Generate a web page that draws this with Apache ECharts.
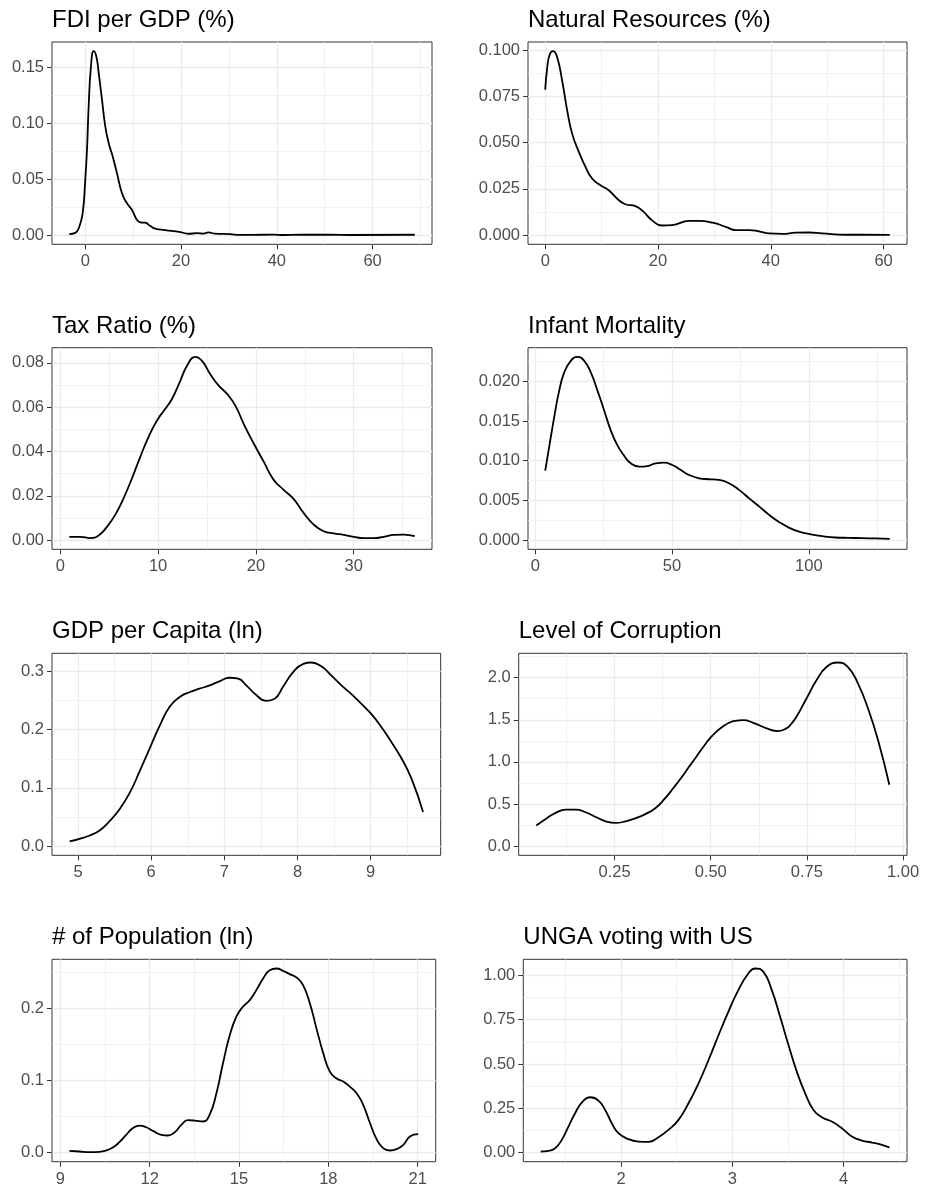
<!DOCTYPE html>
<html><head><meta charset="utf-8">
<script src="https://cdn.jsdelivr.net/npm/echarts@6/dist/echarts.min.js"></script>
<style>html,body{margin:0;padding:0;background:#fff}#c{width:925px;height:1188px}</style>
</head><body><div id="c"></div>
<script>
// ---------- data ----------
const titles = ["FDI per GDP (%)", "Natural Resources (%)", "Tax Ratio (%)", "Infant Mortality",
  "GDP per Capita (ln)", "Level of Corruption", "# of Population (ln)", "UNGA voting with US"];

const fdiX = [-3.34,-2.09,-1.25,-0.55,0,0.36,0.71,1.19,1.75,2.3,2.8,3.49,4.18,4.89,5.73,6.62,7.67,8.71,9.76,10.8,11.5,12.5,13.6,14.6,16.7,19.9,21.5,23.3,24.7,25.7,27.1,30.2,32.3,35.1,39.3,41.4,44.9,51.1,55.3,68.8];
const fdiY = [0.0009,0.002,0.0075,0.0195,0.0495,0.0765,0.1154,0.1513,0.1648,0.1603,0.1454,0.1214,0.0974,0.0825,0.0704,0.0555,0.0375,0.0285,0.0225,0.0135,0.0114,0.0111,0.0081,0.0057,0.0045,0.0027,0.0012,0.0017,0.0014,0.0024,0.0013,0.0009,0.0002,0.0002,0.0004,0.0001,0.0003,0.0003,0.0001,0.0003];

const natX = [0,0.36,0.83,1.42,2.12,3.0,3.89,4.77,5.96,7.14,8.31,9.79,11.26,12.73,14.2,15.99,17.45,18.9,20.7,22.5,25.5,27.3,29.7,32.0,33.8,36.2,37.9,39.7,42.1,44.4,46.8,49.1,53.3,56.2,61.1];
const natY = [0.0786,0.0908,0.098,0.0995,0.0962,0.0836,0.0675,0.0549,0.045,0.0369,0.0306,0.027,0.0243,0.0198,0.0167,0.0157,0.0126,0.0081,0.0052,0.0054,0.0077,0.0077,0.0067,0.0045,0.0027,0.0027,0.002,0.0009,0.0007,0.0013,0.0014,0.0009,0.0002,0.0002,0.0001];

const taxX = [0.92,2.05,3.07,3.92,4.77,5.63,6.48,7.33,8.18,9.03,9.89,10.74,11.42,12.27,12.96,13.81,14.49,15.34,16.2,17.05,17.9,18.75,19.78,20.8,21.82,22.84,23.87,24.89,25.91,26.93,27.96,28.98,30.0,31.03,32.05,33.07,34.1,35.12,36.24];
const taxY = [0.0015,0.0015,0.0009,0.0021,0.006,0.0115,0.019,0.0279,0.0376,0.0466,0.054,0.0593,0.0637,0.0719,0.0787,0.0827,0.0809,0.0749,0.0697,0.066,0.0607,0.0525,0.0436,0.0354,0.0272,0.0227,0.0185,0.0122,0.007,0.004,0.003,0.0024,0.0015,0.0009,0.0009,0.0015,0.0024,0.0025,0.0018];

const infX = [3.65,5.1,6.93,8.76,10.6,13.0,15.45,17.9,20.3,22.75,25.2,27.6,30.0,32.5,34.9,38.0,41.0,44.0,47.1,50.1,53.2,56.2,59.9,63.5,67.2,70.8,74.5,78.1,81.8,85.4,89.1,92.7,96.4,100.0,104.9,109.7,114.6,119.5,124.3,129.6];
const infY = [0.00875,0.01175,0.0155,0.01883,0.02113,0.02258,0.02308,0.02258,0.02113,0.01883,0.01633,0.01383,0.01196,0.01063,0.00967,0.00925,0.00933,0.00967,0.00975,0.00946,0.00883,0.00821,0.00779,0.00767,0.00758,0.00717,0.00633,0.00529,0.00425,0.00321,0.00229,0.00158,0.00108,0.00079,0.0005,0.00033,0.00029,0.00025,0.00021,0.00017];

const gdpX = [4.886,5.02,5.16,5.3,5.43,5.57,5.71,5.84,5.98,6.12,6.25,6.39,6.53,6.66,6.8,6.94,7.07,7.19,7.3,7.44,7.57,7.69,7.8,7.94,8.08,8.19,8.33,8.46,8.6,8.74,8.87,9.01,9.15,9.28,9.42,9.56,9.715];
const gdpY = [0.008,0.0125,0.0182,0.0273,0.0427,0.0638,0.0922,0.128,0.168,0.2078,0.239,0.2562,0.2647,0.2704,0.2761,0.2835,0.2892,0.2875,0.2761,0.259,0.2493,0.2533,0.2732,0.2989,0.3131,0.3154,0.3085,0.2932,0.2761,0.2607,0.2448,0.2266,0.2038,0.1793,0.1509,0.115,0.0586];

const corX = [0.0467,0.071,0.097,0.123,0.149,0.175,0.201,0.227,0.253,0.279,0.304,0.33,0.356,0.38,0.403,0.425,0.445,0.464,0.481,0.498,0.515,0.533,0.548,0.563,0.585,0.611,0.6455,0.6756,0.697,0.711,0.723,0.749,0.775,0.801,0.831,0.857,0.883,0.909,0.935,0.9645];
const corY = [0.244,0.323,0.394,0.433,0.433,0.402,0.346,0.295,0.276,0.295,0.33,0.38,0.45,0.56,0.69,0.82,0.95,1.07,1.18,1.28,1.36,1.425,1.465,1.488,1.496,1.464,1.398,1.366,1.398,1.46,1.535,1.752,1.968,2.126,2.18,2.126,1.929,1.634,1.26,0.728];

const popX = [9.303,9.64,9.98,10.31,10.54,10.76,10.98,11.21,11.43,11.66,11.88,12.11,12.39,12.61,12.84,13.06,13.28,13.51,13.79,14.01,14.24,14.46,14.69,14.91,15.13,15.36,15.58,15.81,16.03,16.26,16.48,16.7,16.93,17.15,17.38,17.6,17.83,18.05,18.27,18.5,18.72,18.95,19.17,19.4,19.62,19.84,20.07,20.29,20.52,20.74,21.02];
const popY = [0.0023,0.0014,0.0005,0.0009,0.0028,0.0069,0.0143,0.0245,0.0337,0.0374,0.0351,0.03,0.0245,0.0236,0.0282,0.0383,0.0448,0.0443,0.043,0.0522,0.0822,0.1238,0.163,0.1885,0.2023,0.2115,0.2254,0.2416,0.2531,0.2554,0.2522,0.2476,0.243,0.2323,0.2069,0.1723,0.1376,0.1122,0.103,0.0984,0.0915,0.0822,0.066,0.0406,0.0185,0.006,0.0028,0.0046,0.0106,0.0222,0.0254];

const ungaX = [1.277,1.346,1.406,1.466,1.526,1.586,1.646,1.721,1.796,1.856,1.916,1.976,2.066,2.156,2.246,2.336,2.426,2.516,2.606,2.696,2.786,2.876,2.964,3.054,3.144,3.205,3.28,3.355,3.43,3.505,3.58,3.655,3.73,3.805,3.895,3.985,4.075,4.165,4.255,4.345,4.414];
const ungaY = [0.0056,0.0094,0.0244,0.0714,0.1466,0.2218,0.282,0.312,0.2932,0.2406,0.1654,0.109,0.0752,0.062,0.0602,0.0865,0.1278,0.1842,0.2782,0.391,0.5226,0.6635,0.795,0.9173,1.0113,1.0395,1.0207,0.9173,0.767,0.6071,0.4568,0.3346,0.2406,0.1992,0.1748,0.1372,0.0902,0.0677,0.0564,0.0432,0.0282];

// tick labels
const fdiXTicks = [0,20,40,60],       fdiYTicks = [0,0.05,0.10,0.15];
const natXTicks = [0,20,40,60],       natYTicks = [0,0.025,0.05,0.075,0.1];
const taxXTicks = [0,10,20,30],       taxYTicks = [0,0.02,0.04,0.06,0.08];
const infXTicks = [0,50,100],         infYTicks = [0,0.005,0.01,0.015,0.02];
const gdpXTicks = [5,6,7,8,9],        gdpYTicks = [0,0.1,0.2,0.3];
const corXTicks = [0.25,0.5,0.75,1],  corYTicks = [0,0.5,1,1.5,2];
const popXTicks = [9,12,15,18,21],    popYTicks = [0,0.1,0.2];
const ungaXTicks = [2,3,4],           ungaYTicks = [0,0.25,0.5,0.75,1];

const xDec = [0,0,0,0,0,2,0,0];
const yDec = [2,3,2,3,1,1,1,2];

const panels = [
  [fdiX, fdiY, fdiXTicks, fdiYTicks],
  [natX, natY, natXTicks, natYTicks],
  [taxX, taxY, taxXTicks, taxYTicks],
  [infX, infY, infXTicks, infYTicks],
  [gdpX, gdpY, gdpXTicks, gdpYTicks],
  [corX, corY, corXTicks, corYTicks],
  [popX, popY, popXTicks, popYTicks],
  [ungaX, ungaY, ungaXTicks, ungaYTicks]
];

// ---------- layout ----------
const layout = [
  [52, 42, 432, 244.3], [528, 42, 907, 244.3],
  [52, 347.7, 432, 549.3], [528, 347.7, 907, 549.3],
  [52, 653.3, 440.7, 855.3], [518.7, 653.3, 907, 855.3],
  [52, 959.3, 435.7, 1161.7], [523.3, 959.3, 907, 1161.7]
];

const FONT = '"Liberation Sans", Arial, Helvetica, sans-serif';
const grids = [], xAxes = [], yAxes = [], series = [], titleCmp = [];

function minorOf(ticks, lo, hi) {
  const step = ticks[1] - ticks[0];
  const c = [ticks[0] - step / 2].concat(ticks.map(t => t + step / 2));
  return c.filter(v => v > lo && v < hi);
}
function expand(lo, hi) { const r = hi - lo; return [lo - 0.05 * r, hi + 0.05 * r]; }

panels.forEach((p, i) => {
  const [xs, ys, xt, yt] = p;
  const [l, t, r, b] = layout[i];
  const [xmin, xmax] = expand(Math.min(...xs), Math.max(...xs));
  const [ymin, ymax] = expand(0, Math.max(...ys));
  grids.push({ left: l, top: t, width: r - l, height: b - t, show: true,
    borderColor: '#333333', borderWidth: 1, backgroundColor: 'transparent' });
  titleCmp.push({ text: titles[i], left: l, top: t - 33.5, padding: 0,
    textStyle: { fontFamily: FONT, fontSize: 24, fontWeight: 'normal', color: '#000' } });
  const xd = xDec[i], yd = yDec[i];
  const xMinor = minorOf(xt, xmin, xmax), yMinor = minorOf(yt, ymin, ymax);
  xAxes.push({ type: 'value', gridIndex: i, position: 'bottom', min: xmin, max: xmax,
    axisLine: { show: false, onZero: false },
    axisTick: { show: true, length: 5, customValues: xt, lineStyle: { color: '#333333', width: 1 } },
    axisLabel: { show: true, customValues: xt, margin: 9, color: '#4D4D4D', fontSize: 16.5, fontFamily: FONT,
      formatter: v => Number(v).toFixed(xd) },
    splitLine: { show: true, lineStyle: { color: '#EBEBEB', width: 1.3 } } });
  xAxes.push({ type: 'value', gridIndex: i, position: 'top', min: xmin, max: xmax,
    axisLine: { show: false, onZero: false },
    axisTick: { show: false, customValues: xMinor },
    axisLabel: { show: false, customValues: xMinor },
    splitLine: { show: true, lineStyle: { color: '#EBEBEB', width: 0.7 } } });
  yAxes.push({ type: 'value', gridIndex: i, position: 'left', min: ymin, max: ymax,
    axisLine: { show: false, onZero: false },
    axisTick: { show: true, length: 5, customValues: yt, lineStyle: { color: '#333333', width: 1 } },
    axisLabel: { show: true, customValues: yt, margin: 8, color: '#4D4D4D', fontSize: 16.5, fontFamily: FONT,
      formatter: v => Number(v).toFixed(yd) },
    splitLine: { show: true, lineStyle: { color: '#EBEBEB', width: 1.3 } } });
  yAxes.push({ type: 'value', gridIndex: i, position: 'right', min: ymin, max: ymax,
    axisLine: { show: false, onZero: false },
    axisTick: { show: false, customValues: yMinor },
    axisLabel: { show: false, customValues: yMinor },
    splitLine: { show: true, lineStyle: { color: '#EBEBEB', width: 0.7 } } });
  series.push({ type: 'line', xAxisIndex: 2 * i, yAxisIndex: 2 * i,
    data: xs.map((x, k) => [x, ys[k]]), showSymbol: false, symbol: 'none',
    smooth: 0.5,
    lineStyle: { color: '#000', width: 1.8 }, silent: true, animation: false, z: 5 });
});

const chart = echarts.init(document.getElementById('c'), null, { renderer: 'canvas' });
chart.setOption({
  backgroundColor: '#ffffff', animation: false,
  title: titleCmp, grid: grids, xAxis: xAxes, yAxis: yAxes, series: series
});
</script>
</body></html>
